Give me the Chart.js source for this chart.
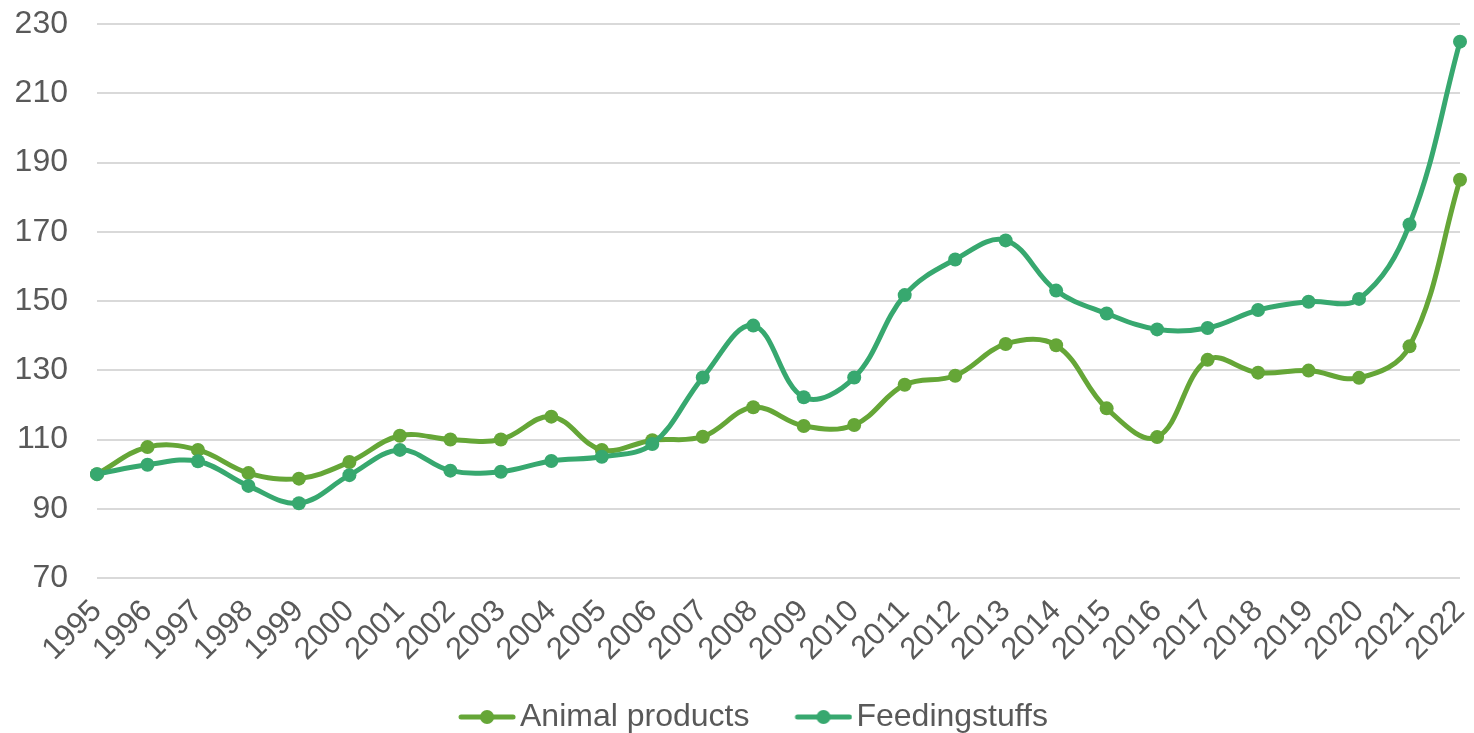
<!DOCTYPE html>
<html>
<head>
<meta charset="utf-8">
<script src="https://cdn.jsdelivr.net/npm/chart.js@4.4.1/dist/chart.umd.min.js"></script>
<style>
html,body{margin:0;padding:0;background:#fff;}
#wrap{width:1474px;height:733px;position:relative;}
</style>
</head>
<body>
<div id="wrap"><canvas id="c" width="1474" height="733"></canvas></div>
<script>
const years = ["1995","1996","1997","1998","1999","2000","2001","2002","2003","2004","2005","2006","2007","2008","2009","2010","2011","2012","2013","2014","2015","2016","2017","2018","2019","2020","2021","2022"];
const animalProducts = [100,107.8,107,100.3,98.7,103.5,111.1,110,110,116.6,107,109.8,110.8,119.3,113.9,114.2,125.8,128.4,137.6,137.2,119,110.7,133,129.3,129.9,127.8,136.9,185];
const feedingstuffs = [100,102.7,103.7,96.6,91.6,99.7,107,101,100.7,103.8,105,108.7,127.9,142.9,122.2,127.9,151.7,162,167.5,153,146.4,141.8,142.2,147.4,149.8,150.6,172.1,224.9];
const yMin = 70, yMax = 230, yStep = 20;
const seriesNames = ["Animal products","Feedingstuffs"];
const seriesColors = ["#65a637","#37a86f"];
const FONT = '"Liberation Sans", Arial, sans-serif';

const ICON_BLANK = 22;
function legendIcon(color){
  const cv = document.createElement('canvas');
  cv.width = 58 + ICON_BLANK; cv.height = 16;
  const g = cv.getContext('2d');
  const o = ICON_BLANK;
  g.strokeStyle = color; g.lineWidth = 5; g.lineCap = 'round';
  g.beginPath(); g.moveTo(o+3,8); g.lineTo(o+55,8); g.stroke();
  g.fillStyle = color; g.beginPath(); g.arc(o+29,8,7,0,Math.PI*2); g.fill();
  return cv;
}
const icons = seriesColors.map(legendIcon);

const ds = [animalProducts, feedingstuffs].map((d,i)=>({
  label: seriesNames[i],
  data: d,
  borderColor: seriesColors[i],
  backgroundColor: seriesColors[i],
  borderWidth: 5,
  pointRadius: 7,
  pointHoverRadius: 7,
  pointBorderWidth: 0,
  tension: 0.38,
  fill: false
}));
ds[1].order = 0; ds[0].order = 1;

const legendShift = {
  id: 'legendShift',
  afterLayout(chart) {
    if (chart.legend) { chart.legend.left += 18; chart.legend.right += 18; }
  }
};

new Chart(document.getElementById('c'), {
  type: 'line',
  data: { labels: years, datasets: ds },
  plugins: [legendShift],
  options: {
    responsive: false,
    animation: false,
    devicePixelRatio: 1,
    layout: { padding: { left: 0, right: 14, top: 24, bottom: 0 } },
    plugins: {
      tooltip: { enabled: false },
      legend: {
        position: 'bottom',
        maxHeight: 67,
        labels: {
          color: '#595959',
          font: { family: FONT, size: 32 },
          usePointStyle: true,
          pointStyleWidth: 56,
          boxHeight: 16,
          padding: 35,
          generateLabels: (chart) => chart.data.datasets.map((d,i)=>({
            text: d.label,
            fillStyle: d.borderColor,
            strokeStyle: d.borderColor,
            lineWidth: 0,
            pointStyle: icons[i],
            fontColor: '#595959',
            hidden: false,
            datasetIndex: i
          }))
        }
      }
    },
    scales: {
      x: {
        grid: { display: false, drawTicks: false },
        border: { display: false },
        offset: false,
        ticks: {
          color: '#595959',
          font: { family: FONT, size: 31 },
          maxRotation: 45, minRotation: 45,
          autoSkip: false,
          padding: 15
        },
        afterFit: (s) => { s.height = 88; s.paddingLeft = 0; s.paddingRight = 0; }
      },
      y: {
        min: yMin, max: yMax,
        grid: { color: '#d9d9d9', lineWidth: 2, drawTicks: false },
        border: { display: false },
        ticks: {
          stepSize: yStep,
          color: '#595959',
          font: { family: FONT, size: 32 },
          padding: 29
        },
        afterFit: (s) => { s.width = 97; s.paddingTop = 0; s.paddingBottom = 0; }
      }
    }
  }
});
</script>
</body>
</html>
